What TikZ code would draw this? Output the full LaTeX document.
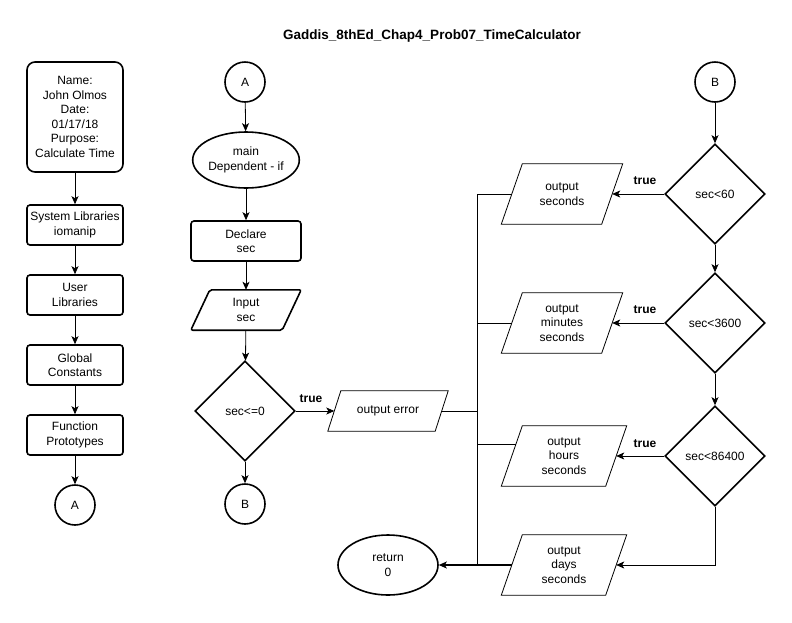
\documentclass[tikz,border=0pt]{standalone}
\usepackage{fontspec}
\setmainfont{Liberation Sans}
\usetikzlibrary{shapes.geometric,arrows.meta,calc}
\newcommand\pgram[3][]{\draw[line width=0.8pt,#1] ($(#2.north west)+(#3/2,0)$) -- ($(#2.north east)+(#3/2,0)$) -- ($(#2.south east)-(#3/2,0)$) -- ($(#2.south west)-(#3/2,0)$) -- cycle;}
\begin{document}
\begin{tikzpicture}[x=1pt,y=-1pt,
 every node/.style={font=\fontsize{12}{14.5}\selectfont, align=center, inner sep=0pt},
 proc/.style={draw, rectangle, line width=1.6pt, rounded corners=3pt, minimum width=96pt, minimum height=40pt},
 term/.style={draw, ellipse, line width=1.6pt, minimum width=100pt, minimum height=56pt},
 conn/.style={draw, circle, line width=1.6pt, minimum size=40pt},
 dec/.style={draw, diamond, line width=1.6pt, minimum width=100pt, minimum height=100pt},
 iobody/.style={rectangle, minimum width=100pt, minimum height=60pt},
 arr/.style={line width=0.8pt, -{Stealth[length=8pt,width=7pt,inset=2pt]}},
 ln/.style={line width=0.8pt},
 lbl/.style={font=\bfseries\fontsize{12}{14}\selectfont}]
\useasboundingbox (0,0) rectangle (792,622);
\node[font=\bfseries\fontsize{13.5}{15}\selectfont] (title) at (432,36) {Gaddis\_8thEd\_Chap4\_Prob07\_TimeCalculator};
% left column
\node[proc, minimum height=110pt, rounded corners=8pt] (name) at (75,117) {Name:\\John Olmos\\Date:\\01/17/18\\Purpose:\\Calculate Time};
\node[proc] (sys) at (75,225) {System Libraries\\iomanip};
\node[proc] (usr) at (75,295) {User\\Libraries};
\node[proc] (glob) at (75,365) {Global\\Constants};
\node[proc] (func) at (75,435) {Function\\Prototypes};
\node[conn] (A1) at (75,505) {A};
\draw[arr] (name) -- (sys);
\draw[arr] (sys) -- (usr);
\draw[arr] (usr) -- (glob);
\draw[arr] (glob) -- (func);
\draw[arr] (func) -- (A1);
% middle column
\node[conn] (A2) at (245,82) {A};
\node[term] (main) at (246,160) {main\\Dependent - if};
\node[proc, minimum width=110pt] (decl) at (246,241) {Declare\\sec};
\node[iobody, minimum width=91pt, minimum height=40pt] (inp) at (246,310) {Input\\sec};
\pgram[line width=1.6pt, rounded corners=2pt]{inp}{19}
\node[dec] (d0) at (245,411) {sec<=0};
\node[conn] (B1) at (245,504) {B};
\node[iobody, minimum width=107pt, minimum height=40pt] (err) at (388,411) {output error};
\pgram{err}{13}
\node[term, minimum height=60pt] (ret) at (388,565) {return\\0};
\draw[arr] (A2) -- (main);
\draw[arr] (main) -- (decl);
\draw[arr] (decl) -- (inp);
\draw[arr] (inp) -- (d0);
\draw[arr] (d0) -- (B1);
\draw[arr] (d0.east) -- (err.west);
\node[lbl] (t0) at (311,399) {true};
% right column
\node[conn] (B2) at (715,82) {B};
\node[dec] (d60) at (715,194) {sec<60};
\node[dec] (d3600) at (715,323) {sec<3600};
\node[dec] (d86400) at (715,456) {sec<86400};
\node[iobody] (osec) at (562,194) {output\\seconds};
\pgram{osec}{21}
\node[iobody] (omin) at (562,323) {output\\minutes\\seconds};
\pgram{omin}{21}
\node[iobody, minimum width=104pt] (ohr) at (564,456) {output\\hours\\seconds};
\pgram{ohr}{21}
\node[iobody, minimum width=104pt] (oday) at (564,565) {output\\days\\seconds};
\pgram{oday}{21}
\draw[arr] (B2) -- (d60);
\draw[arr] (d60) -- (d3600);
\draw[arr] (d3600) -- (d86400);
\draw[arr] (d60.west) -- (osec.east);
\draw[arr] (d3600.west) -- (omin.east);
\draw[arr] (d86400.west) -- (ohr.east);
\draw[arr] (d86400.south) |- (oday.east);
\node[lbl] (t1) at (645,181) {true};
\node[lbl] (t2) at (645,310) {true};
\node[lbl] (t3) at (645,444) {true};
% collecting bus
\coordinate (bus) at (477,565);
\coordinate (hrleft) at ($(ohr.west)+(4,-12)$);
\draw[ln] (err.east) -| (bus);
\draw[ln] (osec.west) -| (bus);
\draw[ln] (omin.west) -| (bus);
\draw[ln] (hrleft) -| (bus);
\draw[arr, line width=1.2pt] (oday.west) -- (bus) -- (ret.east);
\end{tikzpicture}
\end{document}
